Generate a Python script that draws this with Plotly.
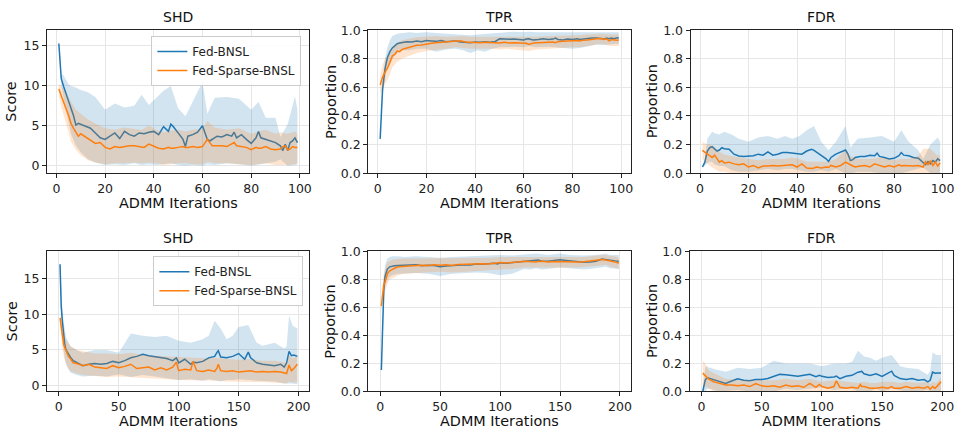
import plotly.graph_objects as go

BLUE = "#1f77b4"
ORANGE = "#ff7f0e"
BLUE_FILL = "rgba(31,119,180,0.2)"
ORANGE_FILL = "rgba(255,127,14,0.2)"
FONT = "DejaVu Sans"

series_names = ["Fed-BNSL", "Fed-Sparse-BNSL"]
titles = ["SHD", "TPR", "FDR", "SHD", "TPR", "FDR"]
ylabels = ["Score", "Proportion", "Proportion", "Score", "Proportion", "Proportion"]
xlabel = "ADMM Iterations"

# ---------------- top row (100 iterations) ----------------
x_top = [1, 2, 3, 4, 5, 6, 7, 8, 9, 10, 12, 14, 16, 18, 20, 22, 24, 26, 28, 30,
         32, 34, 36, 38, 40, 42, 44, 46, 47, 48, 50, 52, 53, 54, 56, 58, 60, 61, 62, 63,
         64, 66, 68, 70, 72, 73, 74, 76, 78, 80, 82, 83, 84, 86, 88, 90, 92, 93, 94, 95,
         96, 97, 98, 99]
xband_top = [1, 2, 3, 4, 5, 6, 8, 10, 13, 16, 20, 24, 28, 32, 35, 38, 41, 44, 47, 50,
             53, 56, 60, 62, 65, 70, 75, 80, 83, 86, 90, 92, 95, 98, 99]

shd_top_fed = [15.3, 10.9, 9.9, 8.9, 8.1, 7.2, 6.3, 5.1, 5.3, 5.2,
               4.9, 4.7, 4.1, 3.5, 3.3, 3.7, 4.1, 3.4, 4.3, 3.9,
               3.7, 4.1, 4.0, 4.2, 4.3, 3.9, 4.9, 4.3, 5.2, 4.9,
               4.1, 3.3, 2.4, 3.7, 3.9, 4.2, 5.0, 4.1, 3.3, 3.1,
               3.3, 3.7, 3.6, 3.9, 3.7, 4.2, 3.5, 3.9, 3.3, 2.8,
               3.5, 4.3, 3.5, 3.3, 3.1, 2.9, 2.5, 1.9, 2.7, 1.9,
               2.9, 3.1, 3.5, 2.9]
shd_top_sparse = [9.6, 8.7, 7.9, 7.1, 6.3, 5.3, 4.7, 4.2, 3.7, 4.0,
                  3.6, 3.3, 2.8, 2.9, 2.3, 2.1, 2.4, 2.3, 2.4, 2.5,
                  2.5, 2.4, 2.3, 2.7, 2.4, 2.2, 2.1, 2.3, 2.2, 2.2,
                  2.3, 2.4, 2.3, 2.3, 2.4, 2.3, 2.4, 2.8, 3.3, 2.9,
                  2.5, 2.5, 2.5, 2.4, 2.7, 2.9, 2.5, 2.4, 2.3, 2.0,
                  2.3, 2.2, 2.2, 2.4, 2.1, 2.0, 2.1, 2.4, 2.5, 2.0,
                  2.1, 2.4, 2.3, 2.3]
shd_top_fed_hi = [15.3, 11.5, 11.3, 10.8, 10.2, 10.0, 9.8, 9.5, 9.2, 8.6,
                  7.0, 7.8, 7.3, 7.5, 8.9, 7.6, 8.5, 9.4, 10.0, 7.2,
                  6.2, 8.0, 10.5, 6.5, 8.5, 8.6, 8.4, 7.0, 8.0, 6.0,
                  6.0, 3.6, 5.2, 8.7, 7.0]
shd_top_fed_lo = [15.3, 10.0, 8.5, 7.0, 5.5, 4.0, 2.5, 1.7, 0.8, 0.4,
                  0.1, 0.2, 0.1, 0.3, 0.1, 0.2, 0.1, 0.2, 0.3, 0.1,
                  0.0, 0.1, 0.0, 0.2, 0.1, 0.3, 0.2, 0.0, 0.2, 0.3,
                  0.5, 0.8, 0.0, 0.1, 0.2]
shd_top_sparse_hi = [10.3, 10.0, 9.6, 9.0, 8.5, 8.0, 7.0, 6.5, 5.8, 5.3,
                     4.7, 4.5, 4.8, 4.6, 4.5, 5.0, 4.5, 4.2, 4.4, 4.5,
                     4.3, 4.5, 4.6, 5.6, 4.8, 4.5, 4.7, 4.0, 4.3, 4.5,
                     4.0, 4.2, 4.0, 4.3, 4.0]
shd_top_sparse_lo = [8.9, 7.4, 6.2, 5.2, 4.2, 3.0, 2.0, 1.3, 0.7, 0.4,
                     0.2, 0.3, 0.3, 0.4, 0.3, 0.4, 0.3, 0.1, 0.2, 0.3,
                     0.3, 0.2, 0.2, 0.5, 0.3, 0.3, 0.2, 0.1, 0.2, 0.3,
                     0.1, 0.1, 0.1, 0.2, 0.3]

tpr_top_fed = [0.24, 0.59, 0.73, 0.81, 0.85, 0.876, 0.89, 0.905, 0.91, 0.915,
               0.92, 0.918, 0.925, 0.92, 0.928, 0.925, 0.922, 0.928, 0.92, 0.922,
               0.925, 0.918, 0.915, 0.912, 0.918, 0.915, 0.92, 0.915, 0.92, 0.918,
               0.94, 0.938, 0.935, 0.936, 0.938, 0.935, 0.932, 0.938, 0.94, 0.935,
               0.932, 0.935, 0.94, 0.935, 0.938, 0.945, 0.935, 0.932, 0.938, 0.935,
               0.94, 0.935, 0.938, 0.94, 0.945, 0.945, 0.942, 0.938, 0.945, 0.94,
               0.945, 0.94, 0.945, 0.948]
tpr_top_sparse = [0.617, 0.673, 0.707, 0.734, 0.775, 0.82, 0.83, 0.854, 0.85, 0.865,
                  0.876, 0.887, 0.894, 0.897, 0.905, 0.908, 0.912, 0.915, 0.914, 0.918,
                  0.922, 0.926, 0.918, 0.915, 0.91, 0.912, 0.915, 0.912, 0.915, 0.913,
                  0.91, 0.915, 0.912, 0.91, 0.912, 0.91, 0.905, 0.908, 0.9, 0.905,
                  0.91, 0.912, 0.915, 0.915, 0.918, 0.912, 0.92, 0.922, 0.925, 0.925,
                  0.928, 0.925, 0.93, 0.932, 0.938, 0.94, 0.942, 0.935, 0.94, 0.925,
                  0.935, 0.93, 0.93, 0.932]
tpr_top_fed_hi = [0.24, 0.65, 0.8, 0.88, 0.93, 0.96, 0.975, 0.98, 0.985, 0.98,
                  0.985, 0.98, 0.975, 0.975, 0.97, 0.965, 0.97, 0.975, 0.975, 0.985,
                  0.99, 0.99, 0.985, 0.99, 0.985, 0.985, 0.99, 0.99, 0.985, 0.99,
                  0.99, 0.99, 0.985, 0.985, 0.985]
tpr_top_fed_lo = [0.24, 0.54, 0.66, 0.74, 0.78, 0.8, 0.84, 0.86, 0.86, 0.87,
                  0.87, 0.85, 0.865, 0.87, 0.86, 0.84, 0.86, 0.85, 0.87, 0.88,
                  0.88, 0.885, 0.88, 0.89, 0.88, 0.885, 0.88, 0.87, 0.875, 0.885,
                  0.9, 0.895, 0.9, 0.905, 0.9]
tpr_top_sparse_hi = [0.68, 0.76, 0.8, 0.82, 0.85, 0.88, 0.91, 0.93, 0.94, 0.95,
                     0.955, 0.96, 0.955, 0.96, 0.96, 0.955, 0.955, 0.955, 0.955, 0.955,
                     0.955, 0.955, 0.95, 0.95, 0.955, 0.96, 0.96, 0.965, 0.965, 0.97,
                     0.975, 0.975, 0.97, 0.97, 0.97]
tpr_top_sparse_lo = [0.55, 0.59, 0.62, 0.65, 0.69, 0.74, 0.78, 0.8, 0.82, 0.84,
                     0.855, 0.865, 0.87, 0.88, 0.875, 0.87, 0.865, 0.87, 0.87, 0.865,
                     0.87, 0.865, 0.86, 0.855, 0.865, 0.87, 0.875, 0.88, 0.88, 0.89,
                     0.9, 0.905, 0.89, 0.89, 0.89]

fdr_top_fed = [0.043, 0.077, 0.155, 0.178, 0.185, 0.171, 0.155, 0.162, 0.178, 0.171,
               0.167, 0.133, 0.12, 0.117, 0.117, 0.122, 0.133, 0.126, 0.149, 0.126,
               0.133, 0.144, 0.144, 0.14, 0.137, 0.133, 0.155, 0.167, 0.16, 0.149,
               0.122, 0.1, 0.081, 0.11, 0.133, 0.149, 0.162, 0.133, 0.088, 0.095,
               0.11, 0.117, 0.117, 0.126, 0.122, 0.14, 0.117, 0.11, 0.1, 0.104,
               0.122, 0.144, 0.126, 0.122, 0.11, 0.104, 0.072, 0.059, 0.081, 0.065,
               0.088, 0.077, 0.1, 0.088]
fdr_top_sparse = [0.16, 0.144, 0.133, 0.122, 0.11, 0.126, 0.1, 0.077, 0.088, 0.072,
                  0.077, 0.065, 0.059, 0.065, 0.043, 0.054, 0.036, 0.05, 0.05, 0.054,
                  0.05, 0.054, 0.054, 0.059, 0.043, 0.065, 0.036, 0.032, 0.036, 0.043,
                  0.036, 0.043, 0.04, 0.054, 0.043, 0.054, 0.077, 0.07, 0.059, 0.05,
                  0.043, 0.05, 0.054, 0.043, 0.065, 0.06, 0.054, 0.043, 0.054, 0.043,
                  0.059, 0.05, 0.054, 0.05, 0.05, 0.054, 0.043, 0.081, 0.059, 0.088,
                  0.054, 0.077, 0.05, 0.072]
fdr_top_fed_hi = [0.043, 0.1, 0.24, 0.27, 0.29, 0.28, 0.27, 0.29, 0.27, 0.24,
                  0.22, 0.25, 0.26, 0.24, 0.26, 0.24, 0.26, 0.3, 0.33, 0.22,
                  0.16, 0.22, 0.33, 0.18, 0.24, 0.25, 0.26, 0.22, 0.3, 0.22,
                  0.16, 0.1, 0.2, 0.25, 0.22]
fdr_top_fed_lo = [0.043, 0.05, 0.07, 0.08, 0.08, 0.06, 0.05, 0.05, 0.02, 0.01,
                  0.01, 0.02, 0.03, 0.02, 0.03, 0.03, 0.02, 0.01, 0.01, 0.02,
                  0.01, 0.03, 0.0, 0.0, 0.01, 0.01, 0.0, 0.0, 0.0, 0.01,
                  0.03, 0.04, 0.0, 0.0, 0.0]
fdr_top_sparse_hi = [0.22, 0.21, 0.2, 0.2, 0.19, 0.18, 0.15, 0.13, 0.12, 0.11,
                     0.1, 0.09, 0.1, 0.1, 0.1, 0.11, 0.1, 0.08, 0.08, 0.08,
                     0.08, 0.1, 0.16, 0.12, 0.1, 0.1, 0.11, 0.09, 0.1, 0.1,
                     0.12, 0.17, 0.17, 0.12, 0.13]
fdr_top_sparse_lo = [0.1, 0.08, 0.07, 0.05, 0.04, 0.03, 0.01, 0.01, 0.0, 0.0,
                     0.0, 0.0, 0.0, 0.0, 0.0, 0.0, 0.0, 0.0, 0.0, 0.0,
                     0.0, 0.0, 0.0, 0.0, 0.0, 0.0, 0.0, 0.0, 0.0, 0.0,
                     0.0, 0.0, 0.0, 0.0, 0.0]

# ---------------- bottom row (200 iterations) ----------------
x_bot = [1, 2, 3, 4, 5, 6, 8, 10, 12, 15, 20, 25, 30, 35, 40, 45, 50, 55, 60, 65,
         70, 75, 80, 85, 90, 95, 98, 100, 105, 110, 112, 115, 120, 125, 130, 132, 133, 135, 140, 145,
         150, 155, 158, 160, 165, 170, 175, 180, 185, 188, 190, 192, 194, 196, 199]
xband_bot = [1, 2, 3, 4, 5, 6, 8, 10, 15, 20, 30, 40, 50, 60, 70, 80, 90, 100, 110, 120,
             125, 130, 135, 140, 145, 150, 158, 165, 170, 180, 188, 190, 192, 195, 199]

shd_bot_fed = [17.0, 11.1, 8.9, 6.8, 5.7, 5.0, 4.4, 3.9, 3.5, 3.2,
               2.8, 3.0, 3.1, 3.0, 3.1, 3.4, 3.2, 3.5, 3.9, 4.1,
               4.4, 4.2, 4.1, 4.0, 3.8, 3.5, 3.9, 3.2, 3.7, 3.0,
               3.3, 3.2, 3.4, 3.9, 4.1, 4.7, 4.9, 4.0, 3.9, 4.1,
               4.5, 3.7, 4.7, 3.9, 3.2, 3.0, 2.9, 2.8, 3.0, 2.6,
               3.2, 4.8, 4.2, 4.3, 4.1]
shd_bot_sparse = [9.5, 8.0, 6.6, 5.8, 5.3, 4.8, 4.1, 3.7, 3.2, 3.1,
                  2.8, 3.0, 2.6, 2.5, 2.4, 2.8, 2.5, 2.7, 3.0, 2.4,
                  2.5, 2.6, 2.2, 2.5, 2.2, 2.6, 3.3, 2.1, 2.3, 2.2,
                  3.4, 2.1, 2.0, 2.2, 2.0, 2.5, 3.0, 2.1, 2.0, 2.1,
                  1.9, 2.0, 2.1, 2.1, 1.9, 2.0, 1.9, 2.0, 1.9, 1.8,
                  1.7, 2.9, 2.1, 2.4, 3.0]
shd_bot_fed_hi = [17.0, 12.5, 10.5, 9.0, 7.5, 6.8, 6.0, 5.5, 5.0, 4.6,
                  5.0, 5.0, 4.6, 7.3, 7.0, 6.8, 7.0, 6.3, 6.0, 6.5,
                  7.0, 9.1, 8.0, 6.5, 7.0, 8.2, 8.5, 6.0, 5.6, 6.0,
                  5.2, 5.5, 9.8, 8.4, 8.0]
shd_bot_fed_lo = [17.0, 9.5, 7.0, 5.0, 3.8, 3.0, 2.3, 1.8, 1.5, 1.3,
                  1.4, 1.3, 1.6, 1.2, 1.5, 1.3, 1.1, 0.8, 0.9, 0.7,
                  0.9, 0.7, 0.6, 0.8, 0.8, 0.9, 0.8, 0.7, 0.6, 0.6,
                  0.3, 0.4, 0.3, 0.3, 0.2]
shd_bot_sparse_hi = [10.0, 9.0, 8.0, 7.5, 7.0, 6.5, 6.0, 5.5, 5.0, 4.8,
                     4.5, 4.5, 4.4, 4.6, 4.3, 4.2, 4.1, 4.0, 4.0, 3.8,
                     3.8, 3.9, 3.8, 3.7, 3.6, 3.6, 3.7, 3.6, 3.5, 3.5,
                     3.3, 3.2, 4.2, 3.8, 4.2]
shd_bot_sparse_lo = [9.0, 7.0, 5.2, 4.2, 3.5, 3.0, 2.4, 2.0, 1.7, 1.5,
                     1.3, 1.2, 1.3, 1.3, 1.1, 1.0, 0.9, 0.8, 0.8, 0.7,
                     0.8, 0.7, 0.7, 0.6, 0.6, 0.5, 0.6, 0.5, 0.5, 0.4,
                     0.3, 0.3, 0.6, 0.4, 0.5]

tpr_bot_fed = [0.154, 0.54, 0.72, 0.82, 0.85, 0.874, 0.89, 0.895, 0.897, 0.9,
               0.902, 0.9, 0.905, 0.898, 0.902, 0.9, 0.89, 0.895, 0.9, 0.905,
               0.905, 0.903, 0.91, 0.908, 0.912, 0.915, 0.91, 0.918, 0.915, 0.92,
               0.918, 0.922, 0.925, 0.93, 0.935, 0.938, 0.935, 0.93, 0.93, 0.935,
               0.94, 0.935, 0.932, 0.93, 0.925, 0.922, 0.925, 0.93, 0.945, 0.94,
               0.938, 0.935, 0.93, 0.932, 0.93]
tpr_bot_sparse = [0.61, 0.7, 0.76, 0.78, 0.816, 0.84, 0.862, 0.874, 0.88, 0.89,
                  0.895, 0.898, 0.9, 0.902, 0.9, 0.905, 0.902, 0.905, 0.9, 0.906,
                  0.908, 0.905, 0.91, 0.912, 0.91, 0.915, 0.918, 0.92, 0.918, 0.92,
                  0.922, 0.925, 0.93, 0.928, 0.925, 0.93, 0.928, 0.93, 0.925, 0.928,
                  0.926, 0.928, 0.925, 0.924, 0.925, 0.926, 0.93, 0.935, 0.942, 0.938,
                  0.935, 0.93, 0.932, 0.925, 0.915]
tpr_bot_fed_hi = [0.154, 0.6, 0.8, 0.9, 0.93, 0.95, 0.96, 0.965, 0.965, 0.96,
                  0.965, 0.96, 0.955, 0.96, 0.965, 0.965, 0.97, 0.975, 0.97, 0.975,
                  0.98, 0.985, 0.98, 0.975, 0.98, 0.985, 0.975, 0.97, 0.97, 0.975,
                  0.985, 0.98, 0.975, 0.975, 0.975]
tpr_bot_fed_lo = [0.154, 0.48, 0.64, 0.74, 0.77, 0.8, 0.82, 0.83, 0.84, 0.845,
                  0.845, 0.84, 0.825, 0.84, 0.845, 0.85, 0.845, 0.83, 0.84, 0.875,
                  0.87, 0.88, 0.87, 0.875, 0.88, 0.885, 0.88, 0.875, 0.87, 0.88,
                  0.89, 0.885, 0.88, 0.875, 0.875]
tpr_bot_sparse_hi = [0.66, 0.76, 0.84, 0.87, 0.9, 0.92, 0.93, 0.94, 0.945, 0.95,
                     0.95, 0.95, 0.95, 0.95, 0.955, 0.955, 0.955, 0.96, 0.96, 0.965,
                     0.965, 0.965, 0.965, 0.96, 0.965, 0.965, 0.96, 0.96, 0.96, 0.97,
                     0.975, 0.97, 0.97, 0.965, 0.955]
tpr_bot_sparse_lo = [0.56, 0.63, 0.68, 0.71, 0.74, 0.77, 0.8, 0.81, 0.83, 0.84,
                     0.85, 0.85, 0.855, 0.85, 0.86, 0.865, 0.865, 0.87, 0.875, 0.885,
                     0.885, 0.885, 0.885, 0.885, 0.885, 0.885, 0.885, 0.885, 0.885, 0.895,
                     0.905, 0.9, 0.89, 0.885, 0.875]

fdr_bot_fed = [0.0, 0.046, 0.08, 0.092, 0.097, 0.095, 0.09, 0.08, 0.075, 0.069,
               0.057, 0.075, 0.09, 0.08, 0.076, 0.085, 0.085, 0.092, 0.108, 0.122,
               0.12, 0.115, 0.108, 0.115, 0.122, 0.105, 0.115, 0.108, 0.1, 0.104,
               0.11, 0.092, 0.108, 0.115, 0.138, 0.14, 0.145, 0.126, 0.115, 0.126,
               0.108, 0.131, 0.145, 0.115, 0.092, 0.085, 0.092, 0.08, 0.085, 0.069,
               0.08, 0.138, 0.13, 0.132, 0.131]
fdr_bot_sparse = [0.131, 0.122, 0.108, 0.1, 0.092, 0.088, 0.08, 0.069, 0.065, 0.057,
                  0.046, 0.046, 0.04, 0.046, 0.035, 0.057, 0.04, 0.035, 0.04, 0.03,
                  0.046, 0.035, 0.04, 0.03, 0.057, 0.03, 0.05, 0.035, 0.023, 0.035,
                  0.076, 0.03, 0.023, 0.03, 0.023, 0.05, 0.035, 0.035, 0.023, 0.023,
                  0.03, 0.023, 0.035, 0.023, 0.023, 0.035, 0.023, 0.03, 0.023, 0.035,
                  0.016, 0.035, 0.023, 0.04, 0.069]
fdr_bot_fed_hi = [0.0, 0.12, 0.17, 0.18, 0.18, 0.17, 0.17, 0.16, 0.15, 0.14,
                  0.17, 0.16, 0.17, 0.22, 0.2, 0.2, 0.2, 0.18, 0.2, 0.2,
                  0.21, 0.29, 0.25, 0.24, 0.22, 0.24, 0.26, 0.18, 0.17, 0.16,
                  0.12, 0.15, 0.28, 0.26, 0.26]
fdr_bot_fed_lo = [0.0, 0.0, 0.0, 0.01, 0.02, 0.02, 0.02, 0.01, 0.0, 0.0,
                  0.01, 0.0, 0.0, 0.0, 0.02, 0.01, 0.02, 0.03, 0.01, 0.02,
                  0.02, 0.0, 0.0, 0.0, 0.02, 0.0, 0.02, 0.01, 0.0, 0.0,
                  0.01, 0.0, 0.0, 0.0, 0.0]
fdr_bot_sparse_hi = [0.22, 0.21, 0.2, 0.18, 0.16, 0.15, 0.14, 0.13, 0.11, 0.09,
                     0.08, 0.08, 0.08, 0.08, 0.09, 0.08, 0.09, 0.07, 0.08, 0.07,
                     0.07, 0.06, 0.07, 0.06, 0.06, 0.07, 0.07, 0.06, 0.07, 0.06,
                     0.07, 0.05, 0.07, 0.06, 0.1]
fdr_bot_sparse_lo = [0.05, 0.04, 0.03, 0.03, 0.02, 0.02, 0.01, 0.0, 0.0, 0.0,
                     0.0, 0.0, 0.0, 0.0, 0.0, 0.0, 0.0, 0.0, 0.0, 0.0,
                     0.0, 0.0, 0.0, 0.0, 0.0, 0.0, 0.0, 0.0, 0.0, 0.0,
                     0.0, 0.0, 0.0, 0.0, 0.0]

# ---------------- figure ----------------
W, H = 962, 440
# pixel boxes of each axes: (left, right, top, bottom)
boxes = [(47, 310, 23, 171), (369, 632, 23, 171), (692, 954, 23, 171),
         (47, 310, 252, 397), (369, 632, 252, 397), (691, 955, 252, 397)]
xranges = [[-3.9, 103.9]] * 3 + [[-9.95, 208.95]] * 3
yranges = [[-0.93, 16.97], [0, 1], [0, 1], [-0.81, 18.8], [0, 1], [0, 1]]
ylabel_px = [11, 331, 653, 12, 331, 654]

panels = [
    (x_top, xband_top, shd_top_fed, shd_top_fed_lo, shd_top_fed_hi, shd_top_sparse, shd_top_sparse_lo, shd_top_sparse_hi),
    (x_top, xband_top, tpr_top_fed, tpr_top_fed_lo, tpr_top_fed_hi, tpr_top_sparse, tpr_top_sparse_lo, tpr_top_sparse_hi),
    (x_top, xband_top, fdr_top_fed, fdr_top_fed_lo, fdr_top_fed_hi, fdr_top_sparse, fdr_top_sparse_lo, fdr_top_sparse_hi),
    (x_bot, xband_bot, shd_bot_fed, shd_bot_fed_lo, shd_bot_fed_hi, shd_bot_sparse, shd_bot_sparse_lo, shd_bot_sparse_hi),
    (x_bot, xband_bot, tpr_bot_fed, tpr_bot_fed_lo, tpr_bot_fed_hi, tpr_bot_sparse, tpr_bot_sparse_lo, tpr_bot_sparse_hi),
    (x_bot, xband_bot, fdr_bot_fed, fdr_bot_fed_lo, fdr_bot_fed_hi, fdr_bot_sparse, fdr_bot_sparse_lo, fdr_bot_sparse_hi),
]

for p in panels:
    xm, xb = p[0], p[1]
    for arr in (p[2], p[5]):
        if len(arr) != len(xm):
            raise ValueError("mean length mismatch %d vs %d" % (len(arr), len(xm)))
    for arr in (p[3], p[4], p[6], p[7]):
        if len(arr) != len(xb):
            raise ValueError("band length mismatch %d vs %d" % (len(arr), len(xb)))

fig = go.Figure()


def band(xb, lo, hi, color, xa, ya):
    return go.Scatter(x=list(xb) + list(xb)[::-1], y=list(hi) + list(lo)[::-1],
                      fill="toself", fillcolor=color, line=dict(width=0),
                      mode="lines", hoverinfo="skip", showlegend=False,
                      xaxis=xa, yaxis=ya)


for i, p in enumerate(panels):
    xm, xb, fm, flo, fhi, sm, slo, shi = p
    xa = "x" if i == 0 else "x%d" % (i + 1)
    ya = "y" if i == 0 else "y%d" % (i + 1)
    leg = "legend" if i == 0 else "legend2"
    show = i in (0, 3)
    fig.add_trace(go.Scatter(x=xm, y=fm, mode="lines", name=series_names[0],
                             line=dict(color=BLUE, width=1.5), showlegend=show,
                             legend=leg, xaxis=xa, yaxis=ya))
    fig.add_trace(band(xb, flo, fhi, BLUE_FILL, xa, ya))
    fig.add_trace(go.Scatter(x=xm, y=sm, mode="lines", name=series_names[1],
                             line=dict(color=ORANGE, width=1.5), showlegend=show,
                             legend=leg, xaxis=xa, yaxis=ya))
    fig.add_trace(band(xb, slo, shi, ORANGE_FILL, xa, ya))

axis_common = dict(showline=True, linecolor="#222", linewidth=1, mirror=True,
                   ticks="outside", ticklen=4, tickcolor="#222", showgrid=True,
                   gridcolor="#e6e6e6", gridwidth=1, zeroline=False,
                   tickfont=dict(family=FONT, size=12.5, color="#222"))

layout = dict(width=W, height=H, margin=dict(l=0, r=0, t=0, b=0),
              paper_bgcolor="white", plot_bgcolor="white",
              font=dict(family=FONT, color="#222"), showlegend=True)

annotations = []
for i, (l, r, t, b) in enumerate(boxes):
    sx = "" if i == 0 else str(i + 1)
    xdom = [l / W, r / W]
    ydom = [1 - b / H, 1 - t / H]
    xa = dict(axis_common, domain=xdom, range=xranges[i], anchor="y" + sx,
              dtick=20 if i < 3 else 50, tick0=0)
    ya = dict(axis_common, domain=ydom, range=yranges[i], anchor="x" + sx)
    if i in (0, 3):
        ya.update(tickvals=[0, 5, 10, 15])
    else:
        ya.update(dtick=0.2, tick0=0, tickformat=".1f")
    layout["xaxis" + sx] = xa
    layout["yaxis" + sx] = ya
    # title
    annotations.append(dict(text=titles[i], x=(l + r) / 2 / W, y=1 - t / H,
                            xref="paper", yref="paper", xanchor="center", yanchor="bottom",
                            yshift=3, showarrow=False,
                            font=dict(family=FONT, size=14, color="#111")))
    # x label
    annotations.append(dict(text=xlabel, x=(l + r) / 2 / W, y=1 - (b + 31) / H,
                            xref="paper", yref="paper", xanchor="center", yanchor="middle",
                            showarrow=False, font=dict(family=FONT, size=14.4, color="#111")))
    # y label
    annotations.append(dict(text=ylabels[i], x=ylabel_px[i] / W, y=1 - (t + b) / 2 / H,
                            xref="paper", yref="paper", xanchor="center", yanchor="middle",
                            textangle=-90, showarrow=False,
                            font=dict(family=FONT, size=14.4, color="#111")))

layout["annotations"] = annotations
legend_common = dict(xanchor="right", yanchor="top", bgcolor="rgba(255,255,255,0.85)",
                     bordercolor="#cccccc", borderwidth=1, itemwidth=30,
                     tracegroupgap=0, font=dict(family=FONT, size=12, color="#222"))
layout["legend"] = dict(legend_common, x=302 / W, y=1 - 29 / H)
layout["legend2"] = dict(legend_common, x=304 / W, y=1 - 257 / H)

fig.update_layout(**layout)
fig.write_html("out.html")
